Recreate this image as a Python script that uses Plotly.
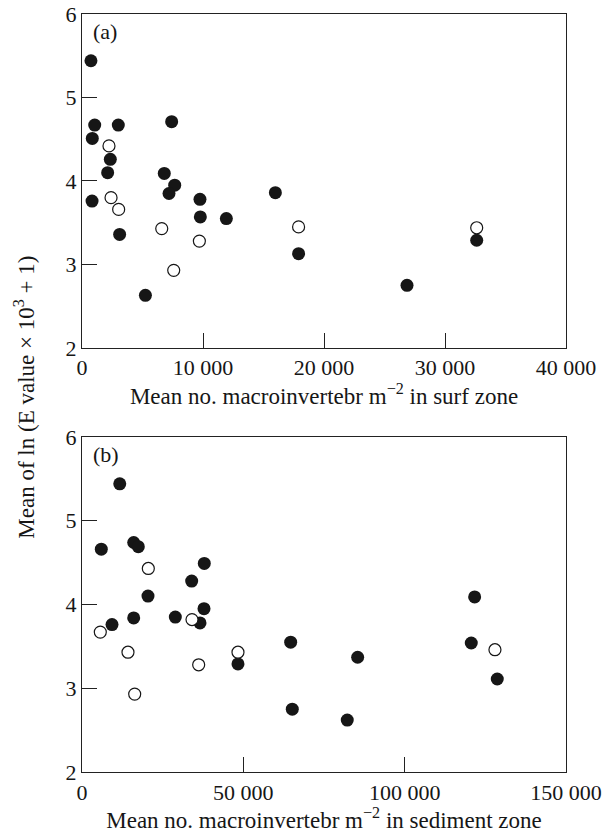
import plotly.graph_objects as go
from plotly.subplots import make_subplots

# Panel (a): surf zone
a_filled_x = [740, 1050, 850, 3000, 7410, 2340, 2120, 6800, 7660, 7190, 830, 9750, 9780, 11930, 15980, 3110, 17900, 5240, 26860, 32620]
a_filled_y = [5.44, 4.67, 4.51, 4.67, 4.71, 4.26, 4.10, 4.09, 3.95, 3.85, 3.76, 3.78, 3.57, 3.55, 3.86, 3.36, 3.13, 2.63, 2.75, 3.29]
a_open_x = [2230, 2400, 3030, 6590, 9700, 7580, 17900, 32620]
a_open_y = [4.42, 3.80, 3.66, 3.43, 3.28, 2.93, 3.45, 3.44]

# Panel (b): sediment zone
b_filled_x = [11700, 5980, 16020, 17450, 37900, 33990, 20450, 9300, 16020, 28920, 37810, 36570, 48340, 64670, 65170, 82210, 85430, 121690, 120640, 128700]
b_filled_y = [5.44, 4.66, 4.74, 4.69, 4.49, 4.28, 4.10, 3.76, 3.84, 3.85, 3.95, 3.78, 3.29, 3.55, 2.75, 2.62, 3.37, 4.09, 3.54, 3.11]
b_open_x = [5670, 20550, 14250, 16330, 34090, 36160, 48340, 127980]
b_open_y = [3.67, 4.43, 3.43, 2.93, 3.82, 3.28, 3.43, 3.46]

a_ticks = [0, 10000, 20000, 30000, 40000]
a_ticklabels = ["0", "10 000", "20 000", "30 000", "40 000"]
b_ticks = [0, 50000, 100000, 150000]
b_ticklabels = ["0", "50 000", "100 000", "150 000"]
y_ticks = [2, 3, 4, 5, 6]

FONT = "Liberation Serif"
INK = "#161616"

fig = make_subplots(rows=2, cols=1, vertical_spacing=0.1)

filled_marker = dict(size=13, color=INK, line=dict(width=0))
open_marker = dict(size=12, color="white", line=dict(width=1.2, color=INK))

fig.add_trace(go.Scatter(x=a_filled_x, y=a_filled_y, mode="markers", marker=filled_marker), row=1, col=1)
fig.add_trace(go.Scatter(x=a_open_x, y=a_open_y, mode="markers", marker=open_marker), row=1, col=1)
fig.add_trace(go.Scatter(x=b_filled_x, y=b_filled_y, mode="markers", marker=filled_marker), row=2, col=1)
fig.add_trace(go.Scatter(x=b_open_x, y=b_open_y, mode="markers", marker=open_marker), row=2, col=1)

axis_common = dict(showgrid=False, zeroline=False, showline=True, linecolor="#222", linewidth=1.2,
                   mirror=True, ticks="inside", ticklen=15, tickcolor="#222", tickwidth=1,
                   automargin=False,
                   tickfont=dict(family=FONT, size=22, color=INK))

fig.update_xaxes(**axis_common)
fig.update_yaxes(**axis_common)

title_font = dict(family=FONT, size=23, color=INK)
fig.update_xaxes(range=[0, 40000], tickvals=a_ticks, ticktext=a_ticklabels, domain=[0, 1],
                 title=dict(text="Mean no. macroinvertebr m<sup>−2</sup> in surf zone",
                            font=title_font, standoff=5), row=1, col=1)
fig.update_xaxes(range=[0, 150000], tickvals=b_ticks, ticktext=b_ticklabels, domain=[0, 1],
                 title=dict(text="Mean no. macroinvertebr m<sup>−2</sup> in sediment zone",
                            font=title_font, standoff=2), row=2, col=1)
fig.update_yaxes(range=[2, 6], tickvals=y_ticks, domain=[0.5594, 1.0], row=1, col=1)
fig.update_yaxes(range=[2, 6], tickvals=y_ticks, domain=[0.0, 0.4420], row=2, col=1)

fig.add_annotation(text="(a)", xref="x domain", yref="y domain", x=0.018, y=0.99,
                   xanchor="left", yanchor="top", showarrow=False,
                   font=dict(family=FONT, size=22, color=INK))
fig.add_annotation(text="(b)", xref="x2 domain", yref="y2 domain", x=0.018, y=0.99,
                   xanchor="left", yanchor="top", showarrow=False,
                   font=dict(family=FONT, size=22, color=INK))
fig.add_annotation(text="Mean of ln (E value × 10<sup>3</sup> + 1)", xref="paper", yref="paper",
                   x=-0.118, y=0.495, xanchor="center", yanchor="middle", textangle=-90,
                   showarrow=False, font=title_font)

fig.update_layout(width=606, height=838, margin=dict(l=82, r=40, t=14, b=66),
                  plot_bgcolor="white", paper_bgcolor="white", showlegend=False)

fig.write_html("out.html")
